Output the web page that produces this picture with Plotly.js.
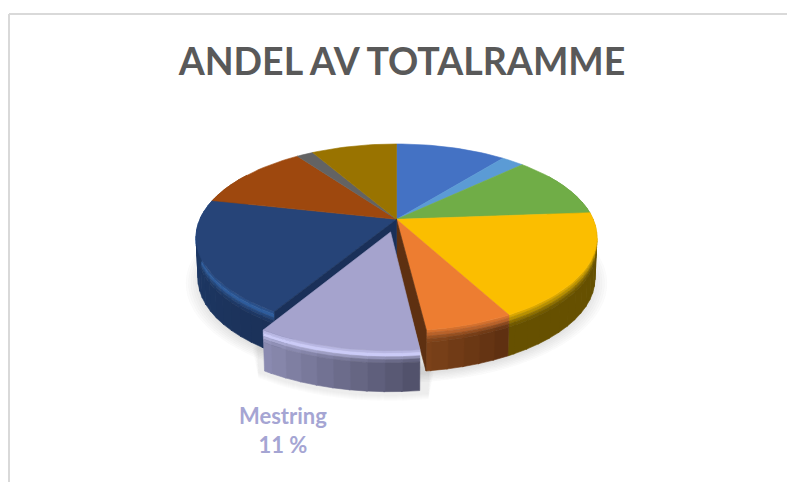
<!DOCTYPE html>
<html><head><meta charset="utf-8">
<script src="https://cdn.plot.ly/plotly-3.0.1.min.js"></script>
<style>html,body{margin:0;padding:0;background:#fff}#c{width:787px;height:482px}</style>
</head><body><div id="c"></div>
<script>
// Data: share of the total, clockwise from the top (only "Mestring" is named in the picture)
const categories = ['Del 1','Del 2','Del 3','Del 4','Del 5','Mestring','Del 7','Del 8','Del 9','Del 10'];
const shares = [10.7,2.2,10.9,18.3,5.9,10.6,19.8,11.6,1.6,8.3];
const explodedCategory = 'Mestring';
const titleText = 'ANDEL AV TOTALRAMME';
const labelText = 'Mestring<br>11 %';

// Styles
const topColors  = ['#4472C4','#5B9BD5','#70AD47','#FBBE00','#ED7D31','#A5A3CD','#264478','#9E480E','#636363','#997300'];
const rimColors  = ['#39609f','#4a7fae','#5c8e3a','#b89000','#b8622a','#CBCBF7','#2E5C9C','#7a380b','#4c4c4c','#705400'];
const wallLeft   = ['#233b66','#2e4f6d','#385724','#665000','#7C4219','#8C8CB2','#1E3B69','#4f2407','#323232','#4c3900'];
const wallRight  = ['#233b66','#2e4f6d','#385724','#655000','#5C2E10','#4F4F68','#1B3159','#4f2407','#323232','#4c3900'];

// Projection of the tilted disc
const P = {cx:396.5, c:219.3, a:196.7, b:47.3, k:0.1947, depth:41, shrink:0.99, explode:0.14};
function proj(u,v,d){
  const w = 1-P.k*v, s = d ? 1-(1-P.shrink)*d : 1;
  return [P.cx + s*P.a*u/w, (P.c+P.b*v)/w + d*P.depth];
}
function rimPt(deg,d,off){
  const r = deg*Math.PI/180;
  return proj(Math.sin(r)+off[0], -Math.cos(r)+off[1], d);
}
const total = shares.reduce((a,b)=>a+b,0);
let acc = 0;
const slices = shares.map((s,i)=>{
  const a0 = acc/total*360; acc += s; const a1 = acc/total*360;
  const mid = (a0+a1)/2*Math.PI/180;
  const off = categories[i]===explodedCategory ? [P.explode*Math.sin(mid), -P.explode*Math.cos(mid)] : [0,0];
  return {i,a0,a1,off};
});
const hex = h=>[1,3,5].map(p=>parseInt(h.substr(p,2),16));
const mix = (a,b,t)=>{const A=hex(a),B=hex(b);return '#'+A.map((x,j)=>Math.round(x+(B[j]-x)*t).toString(16).padStart(2,'0')).join('');};

const traces = [];
function poly(pts,color){
  traces.push({type:'scatter',mode:'lines',x:pts.map(p=>p[0]).concat(pts[0][0]),y:pts.map(p=>p[1]).concat(pts[0][1]),
    fill:'toself',fillcolor:color,line:{color:color,width:0.6},hoverinfo:'skip',showlegend:false});
}
function drawShadow(){
  for(let n=0;n<7;n++){
    const grow=1.06-n*0.012, pts=[];
    for(let d=0;d<360;d+=4){const p=rimPt(d,1,[0,0]);pts.push([P.cx+(p[0]-P.cx)*grow,262+(p[1]-262)*grow+4]);}
    poly(pts,'rgba(90,90,90,0.022)');
  }
  const e=slices.find(s=>categories[s.i]===explodedCategory);
  for(let n=0;n<6;n++){
    const pts=[],g=6-n;
    for(let d=e.a0-2;d<=e.a1+2;d+=3){const p=rimPt(d,1,e.off);pts.push([p[0],p[1]+g+3]);}
    const l=pts[pts.length-1],f=pts[0];
    pts.push([l[0]-g,l[1]-30],[f[0]+g,f[1]-30]);
    poly(pts,'rgba(90,90,90,0.02)');
  }
}
const layers = [[0,.07,.5],[.07,.15,1],[.15,.22,1.5],[.22,.3,1.85],[.3,1,2]];
function drawWalls(s){
  const i=s.i, step=4;
  for(let d=s.a0;d<s.a1-1e-6;d+=step){
    const e=Math.min(d+step+0.3,s.a1);
    if(e<62||d>300) continue;
    const h=(((d+e)/2-s.a0)/(s.a1-s.a0));
    const wall=mix(wallLeft[i],wallRight[i],1-h);
    layers.forEach(([t0,t1,m])=>{
      const col = m<=1 ? mix(topColors[i],rimColors[i],m) : mix(rimColors[i],wall,m-1);
      poly([rimPt(d,t0,s.off),rimPt(e,t0,s.off),rimPt(e,t1,s.off),rimPt(d,t1,s.off)],col);
    });
  }
}
function drawTop(s){
  const pts=[proj(s.off[0],s.off[1],0)];
  for(let d=s.a0;d<s.a1;d+=2) pts.push(rimPt(d,0,s.off));
  pts.push(rimPt(s.a1,0,s.off));
  poly(pts,topColors[s.i]);
}
function cutFace(deg,color){
  poly([proj(0,0,0),rimPt(deg,0,[0,0]),rimPt(deg,1,[0,0]),proj(0,0,1)],color);
}
drawShadow();
const rest=slices.filter(s=>categories[s.i]!==explodedCategory), ex=slices.filter(s=>categories[s.i]===explodedCategory);
rest.forEach(drawWalls);
rest.forEach(drawTop);
ex.forEach(s=>{ cutFace(s.a0,'#5E3011'); cutFace(s.a1,'#1A3059'); });
ex.forEach(drawWalls);
ex.forEach(drawTop);

const border='#D9D9D9';
Plotly.newPlot('c',traces,{
  width:787,height:482,margin:{l:0,r:0,t:0,b:0,pad:0},
  paper_bgcolor:'#fff',plot_bgcolor:'#fff',showlegend:false,hovermode:false,
  xaxis:{range:[0,787],visible:false,fixedrange:true},
  yaxis:{range:[482,0],visible:false,fixedrange:true},
  title:{text:'<b>'+titleText+'</b>',x:402/787,xanchor:'center',xref:'paper',y:1-62/482,yanchor:'middle',yref:'paper',
    font:{family:'Lato',size:37.5,color:'#595959'}},
  annotations:[{text:'<b>'+labelText+'</b>',x:283,y:430,xref:'x',yref:'y',showarrow:false,align:'center',
    font:{family:'Lato',size:22,color:'#A5A5D3'}}],
  shapes:[
    {type:'line',x0:9,x1:787,y0:14,y1:14,xref:'x',yref:'y',line:{color:border,width:2},layer:'below'},
    {type:'line',x0:9,x1:9,y0:14,y1:482,xref:'x',yref:'y',line:{color:border,width:2},layer:'below'}
  ]
},{displayModeBar:false,staticPlot:true});
</script></body></html>
